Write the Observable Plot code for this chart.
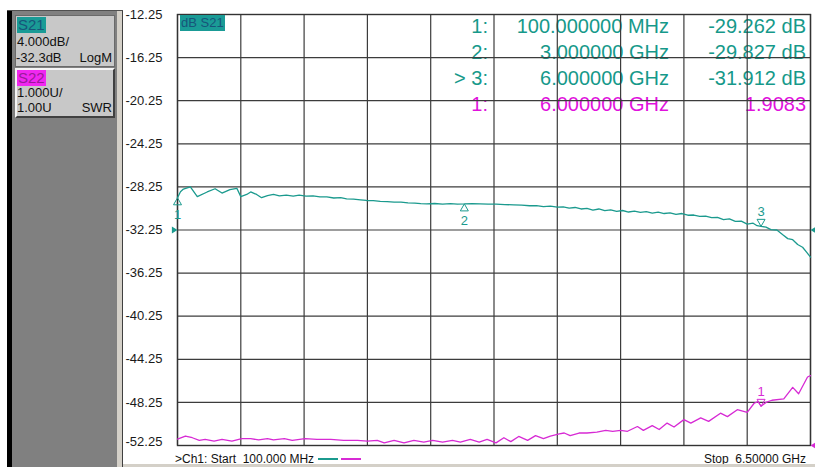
<!DOCTYPE html>
<html><head><meta charset="utf-8">
<script src="https://cdn.jsdelivr.net/npm/d3@7"></script>
<script src="https://cdn.jsdelivr.net/npm/@observablehq/plot@0.6"></script>
<style>
html,body{margin:0;padding:0;background:#fff;}
#wrap{position:relative;width:815px;height:467px;overflow:hidden;font-family:"Liberation Sans",Arial,sans-serif;background:#fff;}
#chart{position:absolute;left:0;top:0;width:815px;height:467px;z-index:2;}
#chart svg{position:absolute;left:0;top:0;}
#readout{position:absolute;left:0;top:0;z-index:1;}
.abs{position:absolute;white-space:pre;}
.box13{font-size:13px;line-height:14px;color:#111;}
.row{position:absolute;left:0;width:815px;height:26px;font-size:20px;line-height:26px;}
.row span{position:absolute;top:0;white-space:pre;}
</style></head>
<body>
<div id="wrap">
  <div id="readout"></div>
  <div id="chart"></div>
  <!-- left channel panel -->
  <div class="abs" style="left:7px;top:11px;width:5px;height:456px;background:#000;z-index:3"></div>
  <div class="abs" style="left:12px;top:11px;width:105px;height:456px;background:#808080;z-index:3"></div>
  <div class="abs" style="left:117px;top:11px;width:5px;height:456px;background:#d4d0c8;z-index:3"></div>
  <div class="abs" style="left:122px;top:11px;width:1px;height:456px;background:#404040;z-index:3"></div>
  <div class="abs" style="left:7px;top:10px;width:116px;height:1px;background:#505050;z-index:3"></div>
  <div class="abs" style="left:15px;top:15px;width:98px;height:50px;background:#c8c8c8;border:1px solid #6a6a6a;z-index:3"></div>
  <div class="abs" style="left:15px;top:68px;width:96px;height:46px;background:#c8c8c8;border-top:2px solid #f4f4f4;border-left:2px solid #f4f4f4;border-bottom:2px solid #404040;border-right:2px solid #404040;z-index:3"></div>
  <div id="panelText" style="position:absolute;left:0;top:0;z-index:4"></div>
  <div class="abs" id="traceTag" style="left:180px;top:15px;font-size:13px;line-height:16px;padding:0 1px;z-index:3"></div>
  <div class="abs" id="startText" style="left:175px;top:452px;font-size:12px;line-height:14px;color:#111;display:flex;align-items:center;z-index:3"></div>
  <div class="abs" id="stopText" style="right:9px;top:452px;font-size:12px;line-height:14px;color:#111;z-index:3"></div>
  <div class="abs" style="left:123px;top:464px;width:692px;height:3px;background:#d4d0c8;z-index:3"></div>
</div>
<script>
// ---------- colours ----------
const teal = "#1b9a8e";
const tealText = "#16998a";
const tealTag = "#1a9b96";
const magenta = "#d72ad4";
const magentaText = "#e012dc";
const magentaTag = "#f028f0";
const gridColor = "#3c3c3c";

// ---------- axis ticks ----------
const yTicks = [-12.25, -16.25, -20.25, -24.25, -28.25, -32.25, -36.25, -40.25, -44.25, -48.25, -52.25];
const xDivs = [0.1, 0.74, 1.38, 2.02, 2.66, 3.30, 3.94, 4.58, 5.22, 5.86, 6.50];
const startGHz = 0.1, stopGHz = 6.5;
const refLevelDb = -32.25;      // S21 reference position
const s22RefSwr = 1.0;          // S22 reference (bottom line)

// ---------- S21 (dB) trace ----------
const s21Freq = [
0.10, 0.13, 0.16, 0.23, 0.30, 0.40, 0.48, 0.55, 0.63, 0.70,
0.74, 0.80, 0.84, 0.90, 0.95, 1.01, 1.07, 1.13, 1.20, 1.27,
1.33, 1.40, 1.47, 1.54, 1.61, 1.68, 1.75, 1.81, 1.88, 1.95,
2.01, 2.08, 2.15, 2.22, 2.29, 2.36, 2.43, 2.50, 2.56, 2.62,
2.70, 2.78, 2.86, 2.93, 3.00, 3.08, 3.16, 3.24, 3.32, 3.41,
3.50, 3.58, 3.66, 3.73, 3.80, 3.87, 3.94, 4.00, 4.06, 4.12,
4.18, 4.24, 4.30, 4.36, 4.42, 4.48, 4.54, 4.60, 4.66, 4.72,
4.78, 4.84, 4.90, 4.96, 5.02, 5.08, 5.14, 5.20, 5.26, 5.32,
5.38, 5.44, 5.50, 5.56, 5.62, 5.68, 5.74, 5.80, 5.86, 5.92,
5.96, 6.00, 6.05, 6.10, 6.16, 6.22, 6.27, 6.32, 6.37, 6.42,
6.46, 6.50];
const s21dB = [
-29.26, -28.70, -28.45, -28.25, -29.15, -28.72, -28.42, -28.82, -28.50, -28.38,
-29.15, -28.95, -28.72, -28.95, -29.25, -29.05, -28.95, -29.08, -29.02, -29.10,
-29.02, -29.10, -29.08, -29.18, -29.17, -29.28, -29.25, -29.36, -29.38, -29.45,
-29.51, -29.52, -29.60, -29.62, -29.67, -29.66, -29.74, -29.76, -29.80, -29.82,
-29.79, -29.84, -29.81, -29.84, -29.83, -29.80, -29.82, -29.85, -29.84, -29.90,
-29.91, -29.95, -30.00, -29.98, -30.08, -30.04, -30.13, -30.10, -30.22, -30.16,
-30.30, -30.24, -30.40, -30.30, -30.46, -30.38, -30.52, -30.44, -30.58, -30.50,
-30.62, -30.55, -30.68, -30.60, -30.72, -30.66, -30.80, -30.72, -30.88, -30.86,
-30.98, -30.96, -31.10, -31.08, -31.28, -31.22, -31.45, -31.42, -31.70, -31.62,
-31.85, -31.91, -31.98, -32.22, -32.25, -32.70, -33.05, -33.15, -33.60, -33.85,
-34.30, -34.77];

// ---------- S22 (SWR) trace ----------
const s22Freq = [
0.10, 0.18, 0.25, 0.32, 0.38, 0.47, 0.55, 0.65, 0.75, 0.84,
0.92, 1.01, 1.07, 1.18, 1.26, 1.39, 1.51, 1.65, 1.78, 1.92,
2.02, 2.12, 2.19, 2.29, 2.39, 2.49, 2.59, 2.68, 2.78, 2.88,
2.96, 3.06, 3.15, 3.23, 3.32, 3.40, 3.47, 3.55, 3.64, 3.72,
3.80, 3.87, 3.96, 4.01, 4.07, 4.16, 4.24, 4.34, 4.43, 4.50,
4.58, 4.65, 4.75, 4.81, 4.90, 4.97, 5.05, 5.12, 5.22, 5.29,
5.39, 5.47, 5.59, 5.66, 5.76, 5.86, 5.93, 5.97, 6.00, 6.05,
6.11, 6.23, 6.32, 6.38, 6.47, 6.50];
const s22Swr = [
1.15, 1.22, 1.18, 1.12, 1.14, 1.10, 1.14, 1.10, 1.16, 1.16,
1.13, 1.16, 1.13, 1.16, 1.12, 1.16, 1.14, 1.14, 1.12, 1.12,
1.10, 1.12, 1.06, 1.12, 1.06, 1.12, 1.08, 1.12, 1.08, 1.12,
1.08, 1.14, 1.08, 1.14, 1.06, 1.18, 1.09, 1.21, 1.12, 1.23,
1.16, 1.22, 1.27, 1.29, 1.23, 1.29, 1.29, 1.31, 1.35, 1.33,
1.35, 1.33, 1.44, 1.35, 1.46, 1.37, 1.52, 1.43, 1.60, 1.52,
1.64, 1.56, 1.75, 1.67, 1.83, 1.77, 1.98, 2.02, 1.91, 2.00,
2.05, 2.08, 2.35, 2.20, 2.59, 2.62];

// ---------- markers ----------
const s21MarkerNames = ["1", "2", "3"];
const s21MarkerFreq = [0.1, 3.0, 6.0];
const s21MarkerDb = [-29.262, -29.827, -31.912];
const s22MarkerNames = ["1"];
const s22MarkerFreq = [6.0];
const s22MarkerSwr = [1.9083];

// ---------- readout text ----------
const readLabels = ["1:", "2:", "> 3:", "1:"];
const readFreqs = ["100.000000 MHz", "3.000000 GHz", "6.000000 GHz", "6.000000 GHz"];
const readValues = ["-29.262 dB", "-29.827 dB", "-31.912 dB", "1.9083"];
const readTrace = ["S21", "S21", "S21", "S22"];

// ---------- panel text ----------
const s21Scale = ["4.000dB/", "-32.3dB", "LogM"];
const s22Scale = ["1.000U/", "1.00U", "SWR"];
const startLabel = ">Ch1: Start  100.000 MHz";
const stopLabel = "Stop  6.50000 GHz";

// SWR (1.000 U/div, ref 1.00 at bottom line) mapped to the shared 4 dB/div grid
const dbPerDiv = 4, swrPerDiv = 1;
const bottomDb = yTicks[yTicks.length - 1];
const swrToGrid = s => bottomDb + (s - s22RefSwr) / swrPerDiv * dbPerDiv;

const s21 = s21Freq.map((f, i) => ({f, v: s21dB[i]}));
const s22 = s22Freq.map((f, i) => ({f, v: swrToGrid(s22Swr[i])}));
const m21 = s21MarkerFreq.map((f, i) => ({f, v: s21MarkerDb[i], name: s21MarkerNames[i], up: i < 2}));
const m22 = s22MarkerFreq.map((f, i) => ({f, v: swrToGrid(s22MarkerSwr[i]), name: s22MarkerNames[i]}));

// custom symbols with the apex at the data point
const triUp = {draw(c, size) { const s = Math.sqrt(size / Math.PI); c.moveTo(0, 0); c.lineTo(-s, 1.75 * s); c.lineTo(s, 1.75 * s); c.closePath(); }};
const triDown = {draw(c, size) { const s = Math.sqrt(size / Math.PI); c.moveTo(0, 0); c.lineTo(-s, -1.75 * s); c.lineTo(s, -1.75 * s); c.closePath(); }};
const triRight = {draw(c, size) { const s = Math.sqrt(size / Math.PI); c.moveTo(0, 0); c.lineTo(-1.6 * s, -s); c.lineTo(-1.6 * s, s); c.closePath(); }};
const triLeft = {draw(c, size) { const s = Math.sqrt(size / Math.PI); c.moveTo(0, 0); c.lineTo(1.6 * s, -s); c.lineTo(1.6 * s, s); c.closePath(); }};

const axisOpts = {anchor: "left", tickSize: 0, tickPadding: 0, textAnchor: "start", dx: -52,
  tickFormat: d => d.toFixed(2), fontSize: 13, fill: "#1a1a1a", label: null};

const chart = Plot.plot({
  width: 815, height: 467,
  marginLeft: 177, marginRight: 5, marginTop: 14, marginBottom: 22,
  style: {background: "transparent", fontFamily: "'Liberation Sans', Arial, sans-serif", overflow: "visible"},
  x: {domain: [startGHz, stopGHz], axis: null},
  y: {domain: [bottomDb, yTicks[0]]},
  marks: [
    Plot.ruleX(xDivs, {stroke: gridColor, strokeWidth: 1.2}),
    Plot.ruleY(yTicks, {stroke: gridColor, strokeWidth: 1.2}),
    Plot.frame({stroke: "#333", strokeWidth: 1.4}),
    Plot.axisY(yTicks.slice(0, -1), axisOpts),
    Plot.axisY(yTicks.slice(-1), {...axisOpts, dy: -4}),
    Plot.line(s22, {x: "f", y: "v", stroke: magenta, strokeWidth: 1.3}),
    Plot.line(s21, {x: "f", y: "v", stroke: teal, strokeWidth: 1.3}),
    // reference level indicators
    Plot.dot([{f: startGHz, v: refLevelDb}], {x: "f", y: "v", symbol: triRight, r: 3.5, fill: teal, stroke: "none"}),
    Plot.dot([{f: stopGHz, v: refLevelDb}], {x: "f", y: "v", symbol: triLeft, r: 3.5, fill: teal, stroke: "none"}),
    Plot.dot([{f: stopGHz, v: bottomDb}], {x: "f", y: "v", symbol: triLeft, r: 3.5, fill: magenta, stroke: "none"}),
    // S21 markers
    Plot.dot(m21.filter(d => d.up), {x: "f", y: "v", symbol: triUp, r: 4, fill: "none", stroke: teal, strokeWidth: 1}),
    Plot.dot(m21.filter(d => !d.up), {x: "f", y: "v", symbol: triDown, r: 4, fill: "none", stroke: teal, strokeWidth: 1}),
    Plot.text(m21.filter(d => d.up), {x: "f", y: "v", text: "name", dy: 17, fill: teal, fontSize: 13}),
    Plot.text(m21.filter(d => !d.up), {x: "f", y: "v", text: "name", dy: -15, fill: teal, fontSize: 13}),
    // S22 marker
    Plot.dot(m22, {x: "f", y: "v", symbol: triDown, r: 4, fill: "none", stroke: magenta, strokeWidth: 1}),
    Plot.text(m22, {x: "f", y: "v", text: "name", dy: -15, fill: magenta, fontSize: 13})
  ]
});
document.getElementById("chart").appendChild(chart);

// ---------- HTML overlays: channel panel ----------
const pt = document.getElementById("panelText");
function add(parent, html, style, cls) {
  const d = document.createElement("div");
  d.className = "abs " + (cls || "");
  d.style.cssText = style;
  d.textContent = html;
  parent.appendChild(d);
  return d;
}
add(pt, "S21", `left:17px;top:17px;font-size:15px;line-height:16px;background:${tealTag};color:#17557a;padding:0 1px;`);
add(pt, s21Scale[0], "left:17px;top:35px;", "box13");
add(pt, s21Scale[1], "left:16px;top:51px;", "box13");
add(pt, s21Scale[2], "left:112px;top:51px;transform:translateX(-100%);", "box13");
add(pt, "S22", `left:17px;top:70px;font-size:15px;line-height:16px;background:${magentaTag};color:#9a1a9a;padding:0 1px;`);
add(pt, s22Scale[0], "left:17px;top:86px;", "box13");
add(pt, s22Scale[1], "left:17px;top:101px;", "box13");
add(pt, s22Scale[2], "left:112px;top:101px;transform:translateX(-100%);", "box13");

const tag = document.getElementById("traceTag");
tag.textContent = "dB S21";
tag.style.background = tealTag;
tag.style.color = "#17557a";

// ---------- marker readout (drawn beneath the grid, as on the analyzer) ----------
const ro = document.getElementById("readout");
readLabels.forEach((lab, i) => {
  const row = document.createElement("div");
  row.className = "row";
  row.style.top = (13 + i * 26) + "px";
  row.style.color = readTrace[i] === "S21" ? tealText : magentaText;
  const a = document.createElement("span"); a.textContent = lab; a.style.right = (815 - 488) + "px";
  const b = document.createElement("span"); b.textContent = readFreqs[i]; b.style.right = (815 - 669) + "px";
  const c = document.createElement("span"); c.textContent = readValues[i]; c.style.right = (815 - 806) + "px";
  row.append(a, b, c);
  ro.appendChild(row);
});

// ---------- bottom annotation ----------
const st = document.getElementById("startText");
const s1 = document.createElement("span"); s1.textContent = startLabel; s1.style.whiteSpace = "pre";
const l1 = document.createElement("span"); l1.style.cssText = `display:inline-block;width:20px;height:2px;background:${teal};margin-left:4px;`;
const l2 = document.createElement("span"); l2.style.cssText = `display:inline-block;width:20px;height:2px;background:${magenta};margin-left:3px;`;
st.append(s1, l1, l2);
document.getElementById("stopText").textContent = stopLabel;
</script>
</body></html>
